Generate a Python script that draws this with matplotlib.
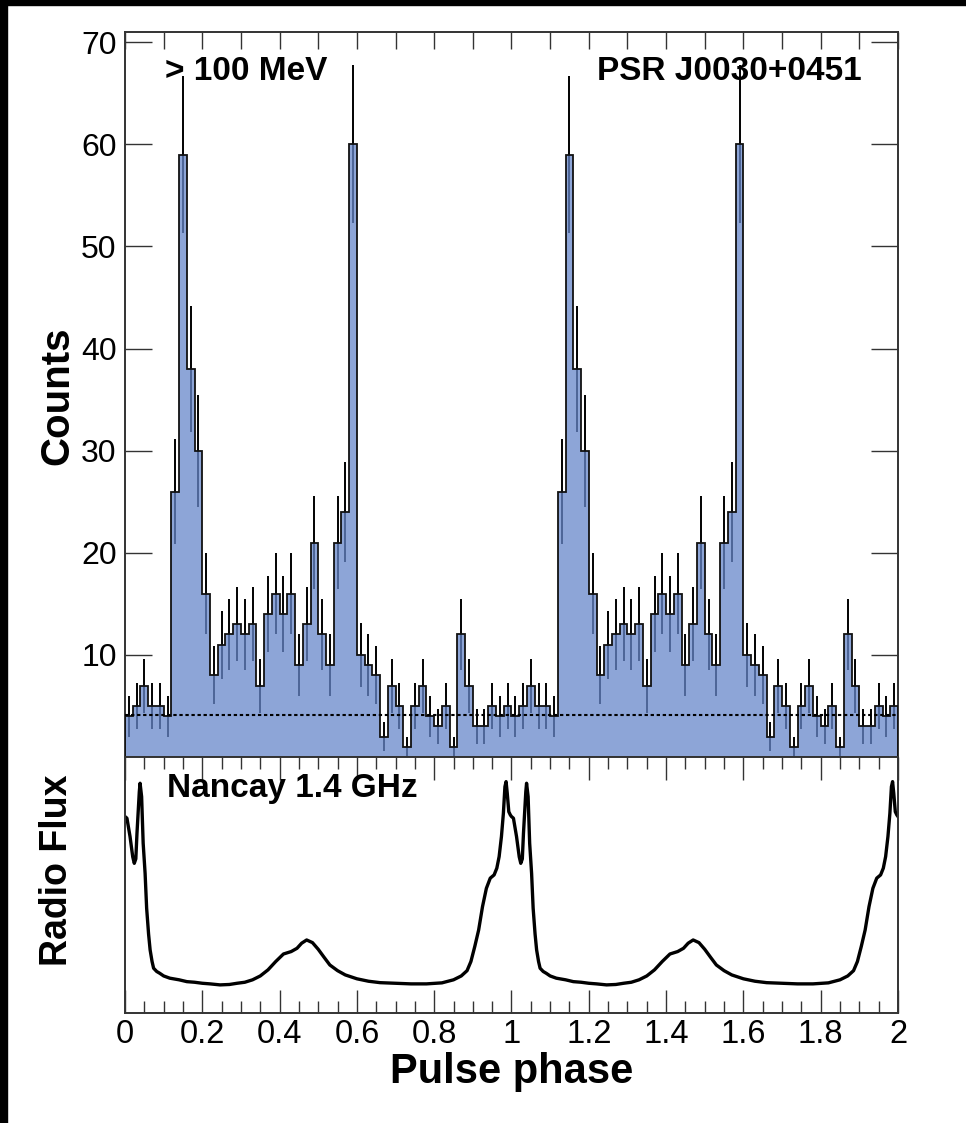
import numpy as np
import matplotlib
matplotlib.use("Agg")
from matplotlib import pyplot as plt
from matplotlib.ticker import MultipleLocator, FuncFormatter
from matplotlib.patches import Rectangle

plt.rcParams['font.family'] = ['Liberation Sans', 'DejaVu Sans']

# gamma-ray light curve (> 100 MeV), 50 bins per rotation
counts = [4, 5, 7, 5, 5, 4, 26, 59, 38, 30,
          16, 8, 11, 12, 13, 12, 13, 7, 14, 16,
          14, 16, 9, 13, 21, 12, 9, 21, 24, 60,
          10, 9, 8, 2, 7, 5, 1, 5, 7, 4,
          3, 5, 1, 12, 7, 3, 3, 5, 4, 5]
background = 4.15

# Nancay 1.4 GHz radio profile (relative flux) over one rotation
radio_phase = [0.000, 0.005, 0.013, 0.020, 0.024, 0.028, 0.031, 0.035, 0.037,
               0.039, 0.043, 0.047, 0.052, 0.056, 0.061, 0.065, 0.070, 0.074,
               0.082, 0.090, 0.100, 0.116, 0.140, 0.160, 0.180, 0.200, 0.220,
               0.246, 0.270, 0.290, 0.310, 0.330, 0.350, 0.370, 0.390, 0.410,
               0.430, 0.445, 0.457, 0.470, 0.485, 0.500, 0.515, 0.530, 0.550,
               0.570, 0.600, 0.630, 0.660, 0.700, 0.740, 0.780, 0.820, 0.850,
               0.870, 0.885, 0.895, 0.905, 0.915, 0.925, 0.935, 0.945, 0.955,
               0.962, 0.968, 0.974, 0.979, 0.983, 0.986, 0.989, 0.993, 0.997]
radio_flux = [0.828, 0.820, 0.730, 0.630, 0.598, 0.620, 0.746, 0.880, 0.950,
              0.992, 0.926, 0.697, 0.549, 0.377, 0.250, 0.172, 0.115, 0.082,
              0.066, 0.057, 0.044, 0.033, 0.025, 0.016, 0.013, 0.008, 0.005,
              0.000, 0.002, 0.008, 0.013, 0.025, 0.044, 0.074, 0.115, 0.152,
              0.164, 0.180, 0.205, 0.221, 0.208, 0.175, 0.136, 0.098, 0.070,
              0.049, 0.030, 0.018, 0.011, 0.008, 0.005, 0.005, 0.010, 0.025,
              0.044, 0.070, 0.115, 0.189, 0.270, 0.385, 0.475, 0.525, 0.541,
              0.574, 0.631, 0.730, 0.844, 0.975, 1.000, 0.943, 0.852, 0.836]

# two rotations
values = np.tile(counts, 2)
edges = np.linspace(0, 2, len(values) + 1)
centers = 0.5 * (edges[:-1] + edges[1:])
rp = np.concatenate([radio_phase, np.array(radio_phase) + 1, [2.0]])
rf = np.concatenate([radio_flux, radio_flux, [radio_flux[0]]])

fig = plt.figure(figsize=(9.66, 11.23), dpi=100)
ax1 = fig.add_axes([0.1294, 0.3259, 0.8002, 0.6456])
ax2 = fig.add_axes([0.1294, 0.0980, 0.8002, 0.2279])

ax1.errorbar(centers, values, yerr=np.sqrt(values), fmt='none',
             ecolor='k', elinewidth=1.4, zorder=1)
ax1.stairs(values, edges, fill=True, color=(103/255, 135/255, 202/255),
           alpha=0.75, zorder=2)
ax1.stairs(values, edges, color='#111111', lw=1.3, zorder=3)
ax1.axhline(background, color='k', lw=1.5, ls=(0, (1.6, 1.3)), zorder=4)

ax1.set_xlim(0, 2)
ax1.set_ylim(0, 71)
ax1.xaxis.set_major_locator(MultipleLocator(0.1))
ax1.set_yticks(range(10, 80, 10))
ax1.tick_params(axis='y', which='major', direction='in', length=19.5, width=1,
                color='#333333', left=True, right=True, labelsize=23, pad=6)
ax1.tick_params(axis='x', which='major', direction='in', length=12, width=1,
                color='#333333', top=True, bottom=False, labelbottom=False)
ax1.text(0.052, 0.934, '> 100 MeV', transform=ax1.transAxes,
         fontsize=24, fontweight='bold', va='baseline', ha='left')
ax1.text(0.953, 0.934, 'PSR J0030+0451', transform=ax1.transAxes,
         fontsize=24, fontweight='bold', va='baseline', ha='right')

ax2.plot(rp, rf, color='k', lw=2.4)
ax2.set_xlim(0, 2)
ax2.set_ylim(-0.138, 1.121)
ax2.set_yticks([])
ax2.xaxis.set_major_locator(MultipleLocator(0.2))
ax2.xaxis.set_minor_locator(MultipleLocator(0.05))
ax2.xaxis.set_major_formatter(FuncFormatter(lambda v, p: '%g' % round(v, 2)))
ax2.tick_params(axis='x', which='major', direction='in', length=16.5, width=1,
                color='#333333', top=True, bottom=True, labelsize=23.5, pad=4)
ax2.tick_params(axis='x', which='minor', direction='in', length=8.6, width=1,
                color='#333333', top=True, bottom=True)
ax2.text(0.054, 0.845, 'Nancay 1.4 GHz', transform=ax2.transAxes,
         fontsize=24, fontweight='bold', va='baseline', ha='left')

for ax in (ax1, ax2):
    for s in ax.spines.values():
        s.set_color('#333333')
        s.set_linewidth(1.4)

fig.text(0.059, 0.648, 'Counts', rotation=90, fontsize=29, fontweight='bold',
         ha='center', va='center')
fig.text(0.059, 0.2253, 'Radio Flux', rotation=90, fontsize=27, fontweight='bold',
         ha='center', va='center')
fig.text(0.53, 0.0356, 'Pulse phase', fontsize=30, fontweight='bold',
         ha='center', va='baseline')

# dark frame strips along the top and left edges
fig.patches.append(Rectangle((0, 0), 7 / 966, 1, transform=fig.transFigure,
                             color='k', zorder=10))
fig.patches.append(Rectangle((0, 1 - 5 / 1123), 1, 5 / 1123,
                             transform=fig.transFigure, color='k', zorder=10))

fig.savefig('out.png', dpi=100)
